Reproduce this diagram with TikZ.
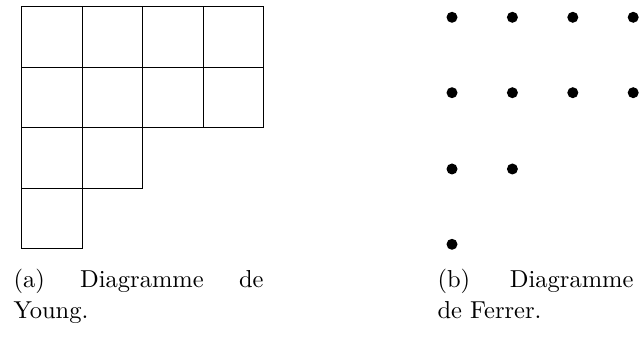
\documentclass[tikz,border=0pt]{standalone}
\begin{document}
\begin{tikzpicture}[x=0.4pt,y=-0.4pt,
  cell/.style={draw=black,line width=0.4pt},
  dotnode/.style={circle,fill=black,inner sep=0pt,minimum size=4.4pt},
  captext/.style={inner sep=0pt,anchor=base west,font=\fontsize{9.8pt}{12pt}\selectfont}]
\useasboundingbox (0,0) rectangle (640,338);
% Young diagram
\def\cs{60.5}
\foreach \r/\n in {0/4,1/4,2/2,3/1}{
  \foreach \c in {1,...,\n}{
    \draw[cell] ({21.5+(\c-1)*\cs},{6.8+\r*\cs}) rectangle ++(\cs,\cs);
  }
}
% Ferrer diagram
\foreach \r/\n/\yy in {1/4/17.3,2/4/92.7,3/2/169,4/1/244.3}{
  \foreach \c in {1,...,\n}{
    \node[dotnode] (d\r\c) at ({452+(\c-1)*60.4},\yy) {};
  }
}
% captions
\node[captext] (capa1) at (13,287.5) {\makebox[100pt][s]{(a) Diagramme de}};
\node[captext] (capa2) at (13,318.5) {Young.};
\node[captext] (capb1) at (437,287.5) {\makebox[78.4pt][s]{(b) Diagramme}};
\node[captext] (capb2) at (437,318.5) {de Ferrer.};
\end{tikzpicture}
\end{document}
